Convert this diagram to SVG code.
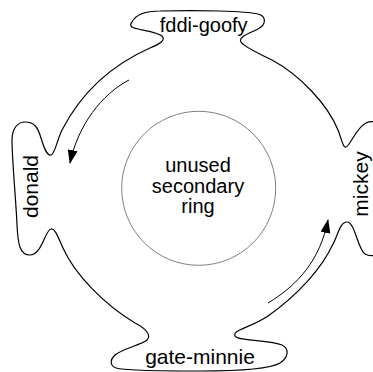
<svg xmlns="http://www.w3.org/2000/svg" width="373" height="372" viewBox="0 0 373 372">
  <style>
    .lbl { font-family: "Liberation Sans", Arial, sans-serif; font-size: 21px; fill: #000; text-anchor: middle; }
    .mid { font-size: 20px; }
    .outline { fill: none; stroke: #000; stroke-width: 1.2; }
    .inner { fill: none; stroke: #808080; stroke-width: 1; }
    .arrow { fill: none; stroke: #000; stroke-width: 1; marker-end: url(#head); }
  </style>
  <defs>
    <marker id="head" viewBox="0 0 14 10" refX="13" refY="5" markerWidth="14" markerHeight="10" markerUnits="userSpaceOnUse" orient="auto">
      <path d="M0,0 L14,5 L0,10 z" fill="#000"/>
    </marker>
  </defs>

  <g id="primary-ring">
    <path class="outline" d="M132,22
      C136,14 145,11 160,11
      C200,10 245,11 258,14
      C266,16 267,24 258,29
      C248,34 238,37 241,42
      C244,47 258,53 272,60
      C300,75 328,105 338,130
      C342,140 343,148 346,147
      C350,146 356,128 366,123
      C372,120 380,122 384,130
      L384,250
      C380,256 370,257 365,254
      C358,250 355,222 347,222
      C340,222 338,235 333,244
      C322,268 298,295 268,316
      C250,328 232,330 235,336
      C237,341 270,340 282,345
      C290,349 288,358 280,363
      C270,369 240,371 200,371
      C160,371 125,371 116,368
      C110,366 110,360 114,356
      C120,349 142,345 147,340
      C152,335 145,328 135,323
      C105,305 75,275 63,248
      C58,237 55,228 51,229
      C45,230 42,255 30,255
      C20,255 18,245 17,225
      C16,200 12,160 12,140
      C12,128 18,122 25,122
      C35,122 38,128 41,138
      C44,148 47,156 51,155
      C55,154 57,140 62,130
      C75,105 100,70 150,48
      C160,44 166,40 162,36
      C158,32 140,30 134,28
      C130,27 130,24 132,22 Z"/>
  </g>

  <g id="secondary-ring">
    <circle class="inner" cx="198.7" cy="188.3" r="77"/>
    <text class="lbl mid" x="198" y="172">unused</text>
    <text class="lbl mid" x="198" y="192.5">secondary</text>
    <text class="lbl mid" x="198" y="213">ring</text>
  </g>

  <g id="fddi-goofy">
    <text class="lbl" x="203.7" y="32" style="font-size:20px">fddi-goofy</text>
  </g>
  <g id="donald">
    <text class="lbl" transform="translate(38,186.5) rotate(-90)">donald</text>
  </g>
  <g id="mickey">
    <text class="lbl" transform="translate(368,184) rotate(-90)">mickey</text>
  </g>
  <g id="gate-minnie">
    <text class="lbl" x="200" y="364">gate-minnie</text>
  </g>

  <g id="connectors">
    <path class="arrow" d="M129,80 C102,94 78,125 70,163"/>
    <path class="arrow" d="M268,303 C298,285 320,260 328,220"/>
  </g>
</svg>
